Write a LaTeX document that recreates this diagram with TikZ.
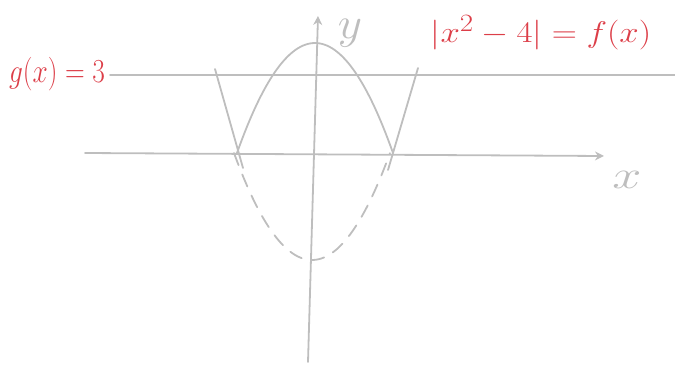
\documentclass[tikz,border=0pt]{standalone}
\usetikzlibrary{arrows.meta}
\definecolor{sketchgrey}{RGB}{190,190,190}
\definecolor{inkred}{RGB}{220,62,72}
\tikzset{
  pen/.style={draw=sketchgrey, line width=1.8pt, line cap=round},
  axis/.style={pen, -{Stealth[length=9pt,width=9pt]}},
  redlabel/.style={text=inkred, inner sep=0pt, font=\Huge},
  greylabel/.style={text=sketchgrey, inner sep=0pt, font=\Huge}
}
\begin{document}
\begin{tikzpicture}[x=1pt,y=-1pt]
\useasboundingbox (0,0) rectangle (675,367);
% axes
\coordinate (xs) at (85,153);
\coordinate (xe) at (604,156);
\coordinate (ys) at (308,362);
\coordinate (ye) at (318,16);
\draw[axis] (xs) -- (xe);
\draw[axis] (ys) -- (ye);
\node[greylabel, xscale=2.1, yscale=1.6] (xl) at (627,180) {$x$};
\node[greylabel, xscale=1.9, yscale=1.8] (yl) at (350,33) {$y$};
% g(x)=3 line
\coordinate (gs) at (110,75);
\coordinate (ge) at (675,75);
\draw[pen] (gs) -- (ge);
% |x^2-4|
\draw[pen] plot[domain=-1:1, samples=60] ({315+78*\x},{43+110*\x*\x});
\draw[pen, dash pattern=on 13pt off 10pt] plot[domain=-1:1, samples=60] ({312+78*\x},{260-107*\x*\x});
\coordinate (la) at (215,69);
\coordinate (lb) at (243,168);
\coordinate (ra) at (418,68);
\coordinate (rb) at (388,170);
\draw[pen] (la) -- (lb);
\draw[pen] (ra) -- (rb);
% labels
\node[redlabel, xscale=1.1, yscale=1.35] (g) at (57,74) {$g(x)=3$};
\node[redlabel, xscale=1.4, yscale=1.2] (f) at (541,33) {$|x^2-4|=f(x)$};
\end{tikzpicture}
\end{document}
